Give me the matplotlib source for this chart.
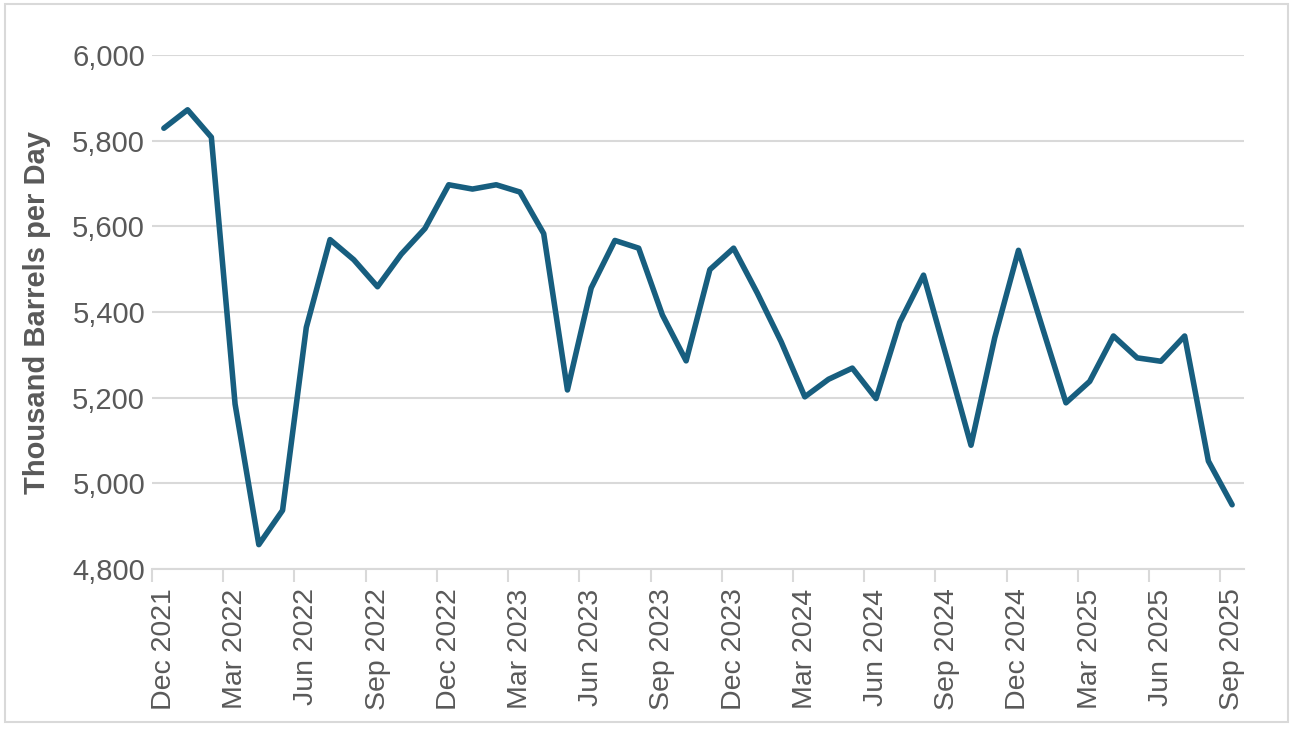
import numpy as np
import matplotlib
matplotlib.use("Agg")
import matplotlib.pyplot as plt
from matplotlib.patches import Rectangle
from matplotlib.ticker import FixedLocator, NullFormatter

plt.rcParams['font.family'] = ['Liberation Sans', 'DejaVu Sans']

# monthly series, Dec 2021 .. Sep 2025
months = ['Dec 2021', 'Jan 2022', 'Feb 2022', 'Mar 2022', 'Apr 2022', 'May 2022', 'Jun 2022',
          'Jul 2022', 'Aug 2022', 'Sep 2022', 'Oct 2022', 'Nov 2022', 'Dec 2022',
          'Jan 2023', 'Feb 2023', 'Mar 2023', 'Apr 2023', 'May 2023', 'Jun 2023',
          'Jul 2023', 'Aug 2023', 'Sep 2023', 'Oct 2023', 'Nov 2023', 'Dec 2023',
          'Jan 2024', 'Feb 2024', 'Mar 2024', 'Apr 2024', 'May 2024', 'Jun 2024',
          'Jul 2024', 'Aug 2024', 'Sep 2024', 'Oct 2024', 'Nov 2024', 'Dec 2024',
          'Jan 2025', 'Feb 2025', 'Mar 2025', 'Apr 2025', 'May 2025', 'Jun 2025',
          'Jul 2025', 'Aug 2025', 'Sep 2025']
production = [5829,
              5872, 5808, 5185, 4857, 4937, 5364, 5569, 5522, 5459, 5535, 5595, 5697,
              5687, 5697, 5680, 5583, 5218, 5456, 5567, 5549, 5393, 5286, 5499, 5549,
              5444, 5331, 5202, 5243, 5269, 5198, 5376, 5486, 5289, 5089, 5340, 5544,
              5365, 5188, 5238, 5344, 5293, 5285, 5344, 5052, 4950]
y_ticks = [4800, 5000, 5200, 5400, 5600, 5800, 6000]

LINE = '#175E7F'
GRID = '#D9D9D9'
TEXT = '#595959'

fig = plt.figure(figsize=(12.98, 7.30), dpi=100)
ax = fig.add_axes([0.1171, 0.2205, 0.8413, 0.7042])

x = np.arange(len(months))
ax.plot(x, production, color=LINE, linewidth=4.0, solid_joinstyle='round',
        solid_capstyle='round', zorder=3)

ax.set_xlim(-0.5, len(months) - 0.5)
ax.set_ylim(4800, 6000)

# y axis
ax.set_yticks(y_ticks)
ax.set_yticklabels([f'{v:,}' for v in y_ticks])
ax.yaxis.grid(True, color=GRID, linewidth=1.5)
ax.tick_params(axis='y', length=0, pad=5, labelsize=21, labelcolor=TEXT)
ax.set_ylabel('Thousand Barrels per Day', fontsize=21, fontweight='bold',
              color=TEXT, labelpad=15)

# x axis: tick marks between categories, labels centred on every 3rd month
lab_pos = x[::3]
ax.xaxis.set_major_locator(FixedLocator(lab_pos - 0.5))
ax.xaxis.set_major_formatter(NullFormatter())
ax.xaxis.set_minor_locator(FixedLocator(lab_pos))
ax.set_xticklabels([months[i] for i in lab_pos], minor=True, rotation=90)
ax.tick_params(axis='x', which='major', length=9, width=1.5, color=GRID)
ax.tick_params(axis='x', which='minor', length=0, pad=14, labelsize=20.5,
               labelcolor=TEXT)

for s in ['top', 'right', 'left']:
    ax.spines[s].set_visible(False)
ax.spines['bottom'].set_color(GRID)
ax.spines['bottom'].set_linewidth(1.5)

# thin frame around the whole chart
fig.patches.append(Rectangle((0.004, 0.011), 0.988, 0.983, transform=fig.transFigure,
                             fill=False, edgecolor=GRID, linewidth=1.5))

fig.savefig('out.png', dpi=100)
